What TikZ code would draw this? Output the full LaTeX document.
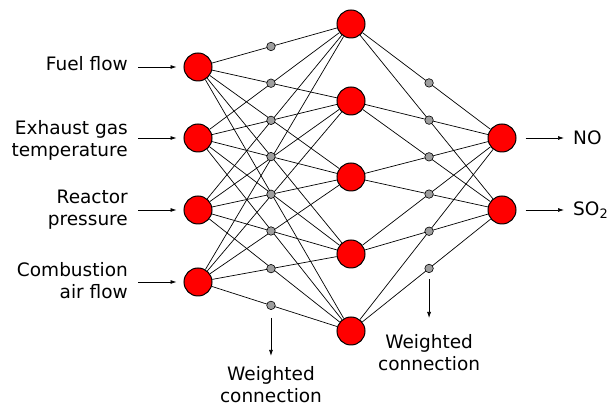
\documentclass[tikz,border=0pt]{standalone}
\usepackage{fontspec}
\setmainfont{DejaVu Sans}
\usetikzlibrary{calc,positioning,arrows.meta}
\definecolor{neuronred}{RGB}{255,0,0}
\definecolor{weightgray}{RGB}{158,158,158}

\begin{document}
\begin{tikzpicture}[
          x=1pt, y=-1pt,
          neuron/.style={circle, draw, line width=1pt, fill=neuronred,
                         minimum size=28pt, inner sep=0pt},
          weight/.style={circle, draw, line width=.6pt, fill=weightgray,
                         minimum size=8.5pt, inner sep=0pt},
          txt/.style={font=\fontsize{18.5}{22}\selectfont, inner sep=0pt},
          link/.style={line width=.7pt},
          tip/.style={line width=.7pt, -{Latex[length=6pt,width=4pt]}}]
            \useasboundingbox (0,0) rectangle (614,411);

            % input layer
            \node[neuron] (i1) at (198,67)  {};
            \node[neuron] (i2) at (198,138) {};
            \node[neuron] (i3) at (198,210) {};
            \node[neuron] (i4) at (198,282) {};

            % hidden layer
            \node[neuron] (h1) at (351,24)  {};
            \node[neuron] (h2) at (351,101) {};
            \node[neuron] (h3) at (351,177) {};
            \node[neuron] (h4) at (351,254) {};
            \node[neuron] (h5) at (351,331) {};

            % output layer
            \node[neuron] (o1) at (502,138) {};
            \node[neuron] (o2) at (502,210) {};

            % input -> hidden
            \foreach \a in {i1, i2, i3, i4}
              \foreach \b in {h1, h2, h3, h4, h5}
                \draw[link] (\a) -- (\b);
            % hidden -> output
            \foreach \a in {h1, h2, h3, h4, h5}
              \foreach \b in {o1, o2}
                \draw[link] (\a) -- (\b);

            % weights
            \foreach \a/\b [count=\k] in {i1/h1, i1/h2, i2/h2, i2/h3,
                                          i3/h3, i3/h4, i4/h4, i4/h5}
              \node[weight] (w\k) at ($(\a)!.477!(\b)$) {};
            \foreach \a/\b [count=\k] in {h1/o1, h2/o1, h3/o1,
                                          h3/o2, h4/o2, h5/o2}
              \node[weight] (v\k) at ($(\a)!.517!(\b)$) {};

            % inputs
            \node[txt, anchor=east, align=right] (fuel)  at (128,64)  {Fuel flow};
            \node[txt, anchor=east, align=right] (exh)   at (128,140) {Exhaust gas\\temperature};
            \node[txt, anchor=east, align=right] (press) at (128,210) {Reactor\\pressure};
            \node[txt, anchor=east, align=right] (air)   at (128,281) {Combustion\\air flow};

            \draw[tip, shorten <=10pt, shorten >=7pt] (fuel.east |- i1)  -- (i1);
            \draw[tip, shorten <=10pt, shorten >=7pt] (exh.east |- i2)   -- (i2);
            \draw[tip, shorten <=10pt, shorten >=7pt] (press.east |- i3) -- (i3);
            \draw[tip, shorten <=10pt, shorten >=7pt] (air.east |- i4)   -- (i4);

            % outputs
            \node[txt, anchor=west] (no)  at (573,138) {NO};
            \node[txt, anchor=west] (so2) at (573,210) {SO\textsubscript{2}};

            \draw[tip, shorten <=9pt, shorten >=9pt] (o1) -- (no.west |- o1);
            \draw[tip, shorten <=9pt, shorten >=9pt] (o2) -- (so2.west |- o2);

            % weighted connection
            \node[txt, align=center, below=56pt of w8] (wc1) {Weighted\\connection};
            \node[txt, align=center, below=61pt of v6] (wc2) {Weighted\\connection};

            \draw[tip, shorten <=8pt, shorten >=10pt] (w8) -- (wc1);
            \draw[tip, shorten <=6pt, shorten >=16pt] (v6) -- (wc2);
          \end{tikzpicture}
\end{document}
